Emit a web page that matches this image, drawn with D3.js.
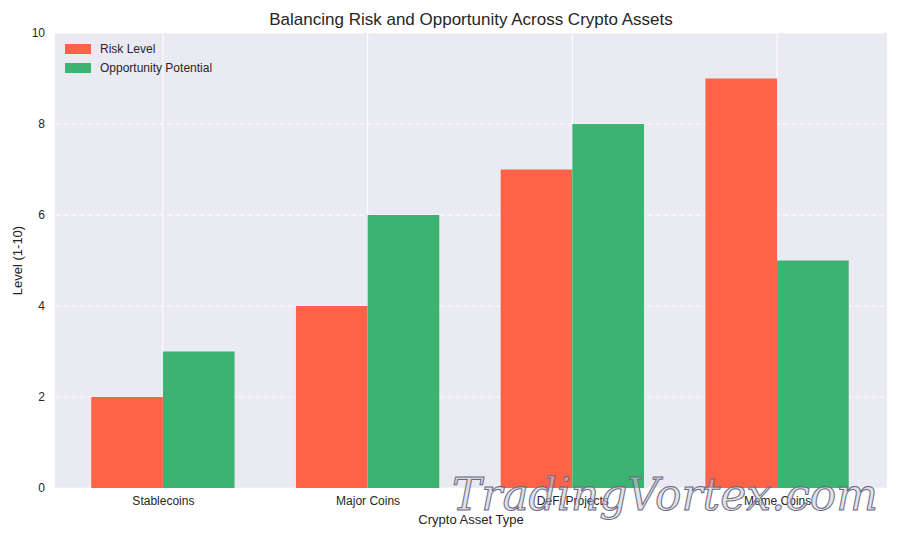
<!DOCTYPE html>
<html lang="en">
  <head>
    <meta charset="utf-8">
    <title>Crypto Risk vs Opportunity</title>
    <script src="https://d3js.org/d3.v7.min.js"></script>
    <style>
      body { margin: 0; background: #fff; }
      text { font-family: "Liberation Sans", Arial, sans-serif; fill: #262626; }
    </style>
  </head>
  <body>
    <svg id="chart" width="900" height="540"></svg>
    <script>
      const categories = ['Stablecoins', 'Major Coins', 'DeFi Projects', 'Meme Coins'];
      const riskLevel = [2, 4, 7, 9];
      const opportunity = [3, 6, 8, 5];
      const yTicks = [0, 2, 4, 6, 8, 10];
      const seriesNames = ['Risk Level', 'Opportunity Potential'];
      const colors = ['#ff6347', '#3cb371'];

      const plotLeft = 55, plotRight = 887, plotTop = 33, plotBottom = 488;
      const barW = 0.35;

      const svg = d3.select('#chart');
      const x = d3.scaleLinear().domain([-0.527, 3.537]).range([plotLeft, plotRight]);
      const y = d3.scaleLinear().domain([0, 10]).range([plotBottom, plotTop]);

      svg.append('rect')
        .attr('x', plotLeft).attr('y', plotTop)
        .attr('width', plotRight - plotLeft).attr('height', plotBottom - plotTop)
        .attr('fill', '#eaeaf2');

      // grid
      svg.append('g').selectAll('line').data(yTicks).join('line')
        .attr('x1', plotLeft).attr('x2', plotRight)
        .attr('y1', d => y(d)).attr('y2', d => y(d))
        .attr('stroke', '#fff').attr('stroke-width', 1)
        .attr('stroke-dasharray', '5,3');
      svg.append('g').selectAll('line').data(categories).join('line')
        .attr('x1', (d, i) => x(i)).attr('x2', (d, i) => x(i))
        .attr('y1', plotTop).attr('y2', plotBottom)
        .attr('stroke', '#fff').attr('stroke-width', 1);

      // bars
      [riskLevel, opportunity].forEach((vals, s) => {
        svg.append('g').selectAll('rect').data(vals).join('rect')
          .attr('x', (d, i) => x(i + (s === 0 ? -barW : 0)))
          .attr('width', x(barW) - x(0))
          .attr('y', d => y(d))
          .attr('height', d => y(0) - y(d))
          .attr('fill', colors[s]);
      });

      // axes
      const yAxis = svg.append('g').attr('transform', `translate(${plotLeft},0)`)
        .call(d3.axisLeft(y).tickValues(yTicks).tickSize(0).tickPadding(10));
      yAxis.select('.domain').remove();
      yAxis.selectAll('text').style('font-size', '12px');

      const xAxis = svg.append('g').attr('transform', `translate(0,${plotBottom})`)
        .call(d3.axisBottom(x).tickValues(d3.range(categories.length))
          .tickFormat(i => categories[i]).tickSize(0).tickPadding(8));
      xAxis.select('.domain').remove();
      xAxis.selectAll('text').style('font-size', '12px');

      svg.append('text').attr('x', 471).attr('y', 25)
        .attr('text-anchor', 'middle').style('font-size', '17px')
        .text('Balancing Risk and Opportunity Across Crypto Assets');
      svg.append('text').attr('x', 471).attr('y', 524)
        .attr('text-anchor', 'middle').style('font-size', '13px')
        .text('Crypto Asset Type');
      svg.append('text').attr('transform', `translate(22,${(plotTop + plotBottom) / 2}) rotate(-90)`)
        .attr('text-anchor', 'middle').style('font-size', '13px')
        .text('Level (1-10)');

      // legend
      const legend = svg.append('g').selectAll('g').data(seriesNames).join('g')
        .attr('transform', (d, i) => `translate(65,${44 + i * 19})`);
      legend.append('rect').attr('width', 26).attr('height', 10)
        .attr('fill', (d, i) => colors[i]);
      legend.append('text').attr('x', 35).attr('y', 9)
        .style('font-size', '12px').text(d => d);

      // watermark
      svg.append('text').attr('x', 665).attr('y', 510)
        .attr('text-anchor', 'middle')
        .style('font-family', 'DejaVu Serif, serif').style('font-style', 'italic')
        .style('font-size', '44px').style('fill', 'rgba(200,200,215,0.55)')
        .style('stroke', '#6a6a80').style('stroke-width', '1')
        .text('TradingVortex.com');
    </script>
  </body>
</html>
